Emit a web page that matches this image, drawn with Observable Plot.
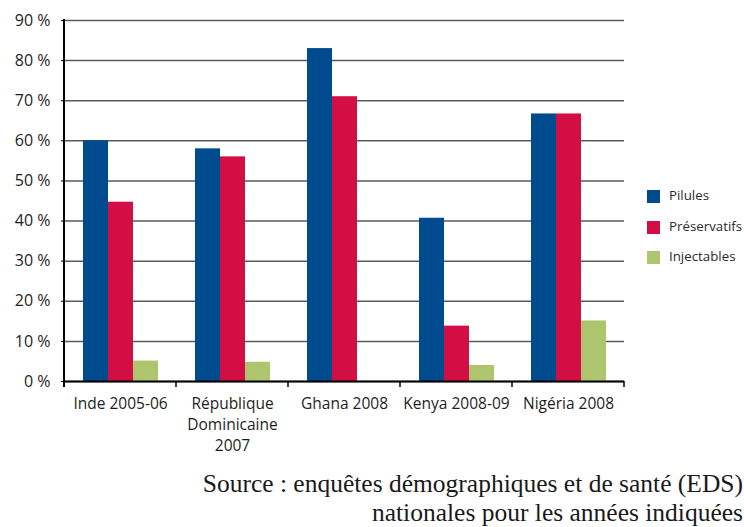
<!DOCTYPE html>
<html>
<head>
<meta charset="utf-8">
<script src="https://cdn.jsdelivr.net/npm/d3@7"></script>
<script src="https://cdn.jsdelivr.net/npm/@observablehq/plot@0.6"></script>
<style>
  html, body { margin: 0; padding: 0; background: #fff; }
  #wrap { position: relative; width: 744px; height: 527px; overflow: hidden; font-family: "Open Sans", sans-serif; }
  #legend { position: absolute; left: 647px; top: 188px; }
  .row { position: relative; height: 30.5px; }
  .sw { position: absolute; left: 0; top: 2px; width: 13px; height: 13px; }
  .lb { position: absolute; left: 22px; top: -2px; font-size: 13.3px; color: #2a2a2a; white-space: nowrap; }
  #caption { position: absolute; right: 1px; top: 470px; text-align: right; font-family: "Liberation Serif", serif; font-size: 25.5px; line-height: 28.5px; color: #1a1a1a; white-space: nowrap; }
</style>
</head>
<body>
<div id="wrap">
  <div id="chart"></div>
  <div id="legend"></div>
  <div id="caption">Source : enquêtes démographiques et de santé (EDS)<br>nationales pour les années indiquées</div>
</div>
<script>
const countries = ["Inde 2005-06", "République Dominicaine 2007", "Ghana 2008", "Kenya 2008-09", "Nigéria 2008"];
const countryLabels = ["Inde 2005-06", "République\nDominicaine\n2007", "Ghana 2008", "Kenya 2008-09", "Nigéria 2008"];
const methods = ["Pilules", "Préservatifs", "Injectables"];
const pilules = [60, 58, 83, 40.7, 66.7];
const preservatifs = [44.7, 56, 71, 13.8, 66.7];
const injectables = [5.1, 4.8, null, 4.0, 15.1];
const colors = ["#004a8f", "#d20e45", "#adc66e"];
const yTicks = [0, 10, 20, 30, 40, 50, 60, 70, 80, 90];

const series = [pilules, preservatifs, injectables];
const data = countries.flatMap((c, i) => methods.map((m, j) => ({country: c, method: m, value: series[j][i]})))
  .filter(d => d.value != null);

const plot = Plot.plot({
  width: 744,
  height: 462,
  marginTop: 20,
  marginBottom: 81,
  marginLeft: 62,
  marginRight: 119,
  style: {fontFamily: "Open Sans, sans-serif", color: "#1e1e1e"},
  fx: {domain: countries, padding: 0, label: null},
  x: {domain: methods, paddingInner: 0, paddingOuter: 0.69, axis: null},
  y: {domain: [0, 90], label: null},
  color: {domain: methods, range: colors},
  marks: [
    Plot.gridY(yTicks, {stroke: "#5a5a5a", strokeOpacity: 1, strokeWidth: 1.5}),
    Plot.barY(data, {fx: "country", x: "method", y: "value", fill: "method"}),
    Plot.ruleY([0], {stroke: "#000", strokeWidth: 2.2}),
    Plot.axisY(yTicks, {tickSize: 3, tickPadding: 11, fontSize: 16, stroke: "#000",
      tickFormat: d => d + "\u00a0%", label: null}),
    Plot.axisFx({anchor: "bottom", tickSize: 0, tickPadding: 13, fontSize: 15.5, lineHeight: 1.34,
      tickFormat: d => countryLabels[countries.indexOf(d)], label: null})
  ]
});
document.getElementById("chart").appendChild(plot);

// axis line and category boundary ticks, placed through Plot's own scales
const fx = plot.scale("fx");
const y = plot.scale("y");
const svg = d3.select(plot);
const edges = fx.domain.map(d => fx.apply(d)).concat([fx.apply(fx.domain[fx.domain.length - 1]) + fx.bandwidth]);
const y0 = y.apply(0);
svg.append("line")
  .attr("x1", edges[0]).attr("x2", edges[0])
  .attr("y1", y.apply(90) - 1).attr("y2", y0 + 6)
  .attr("stroke", "#000").attr("stroke-width", 2);
svg.append("g").selectAll("line").data(edges.slice(1)).join("line")
  .attr("x1", d => d).attr("x2", d => d)
  .attr("y1", y0).attr("y2", y0 + 6)
  .attr("stroke", "#000").attr("stroke-width", 1.5);

// legend
const legend = d3.select("#legend");
methods.forEach((m, i) => {
  const row = legend.append("div").attr("class", "row");
  row.append("div").attr("class", "sw").style("background", colors[i]);
  row.append("div").attr("class", "lb").text(m);
});
</script>
</body>
</html>
